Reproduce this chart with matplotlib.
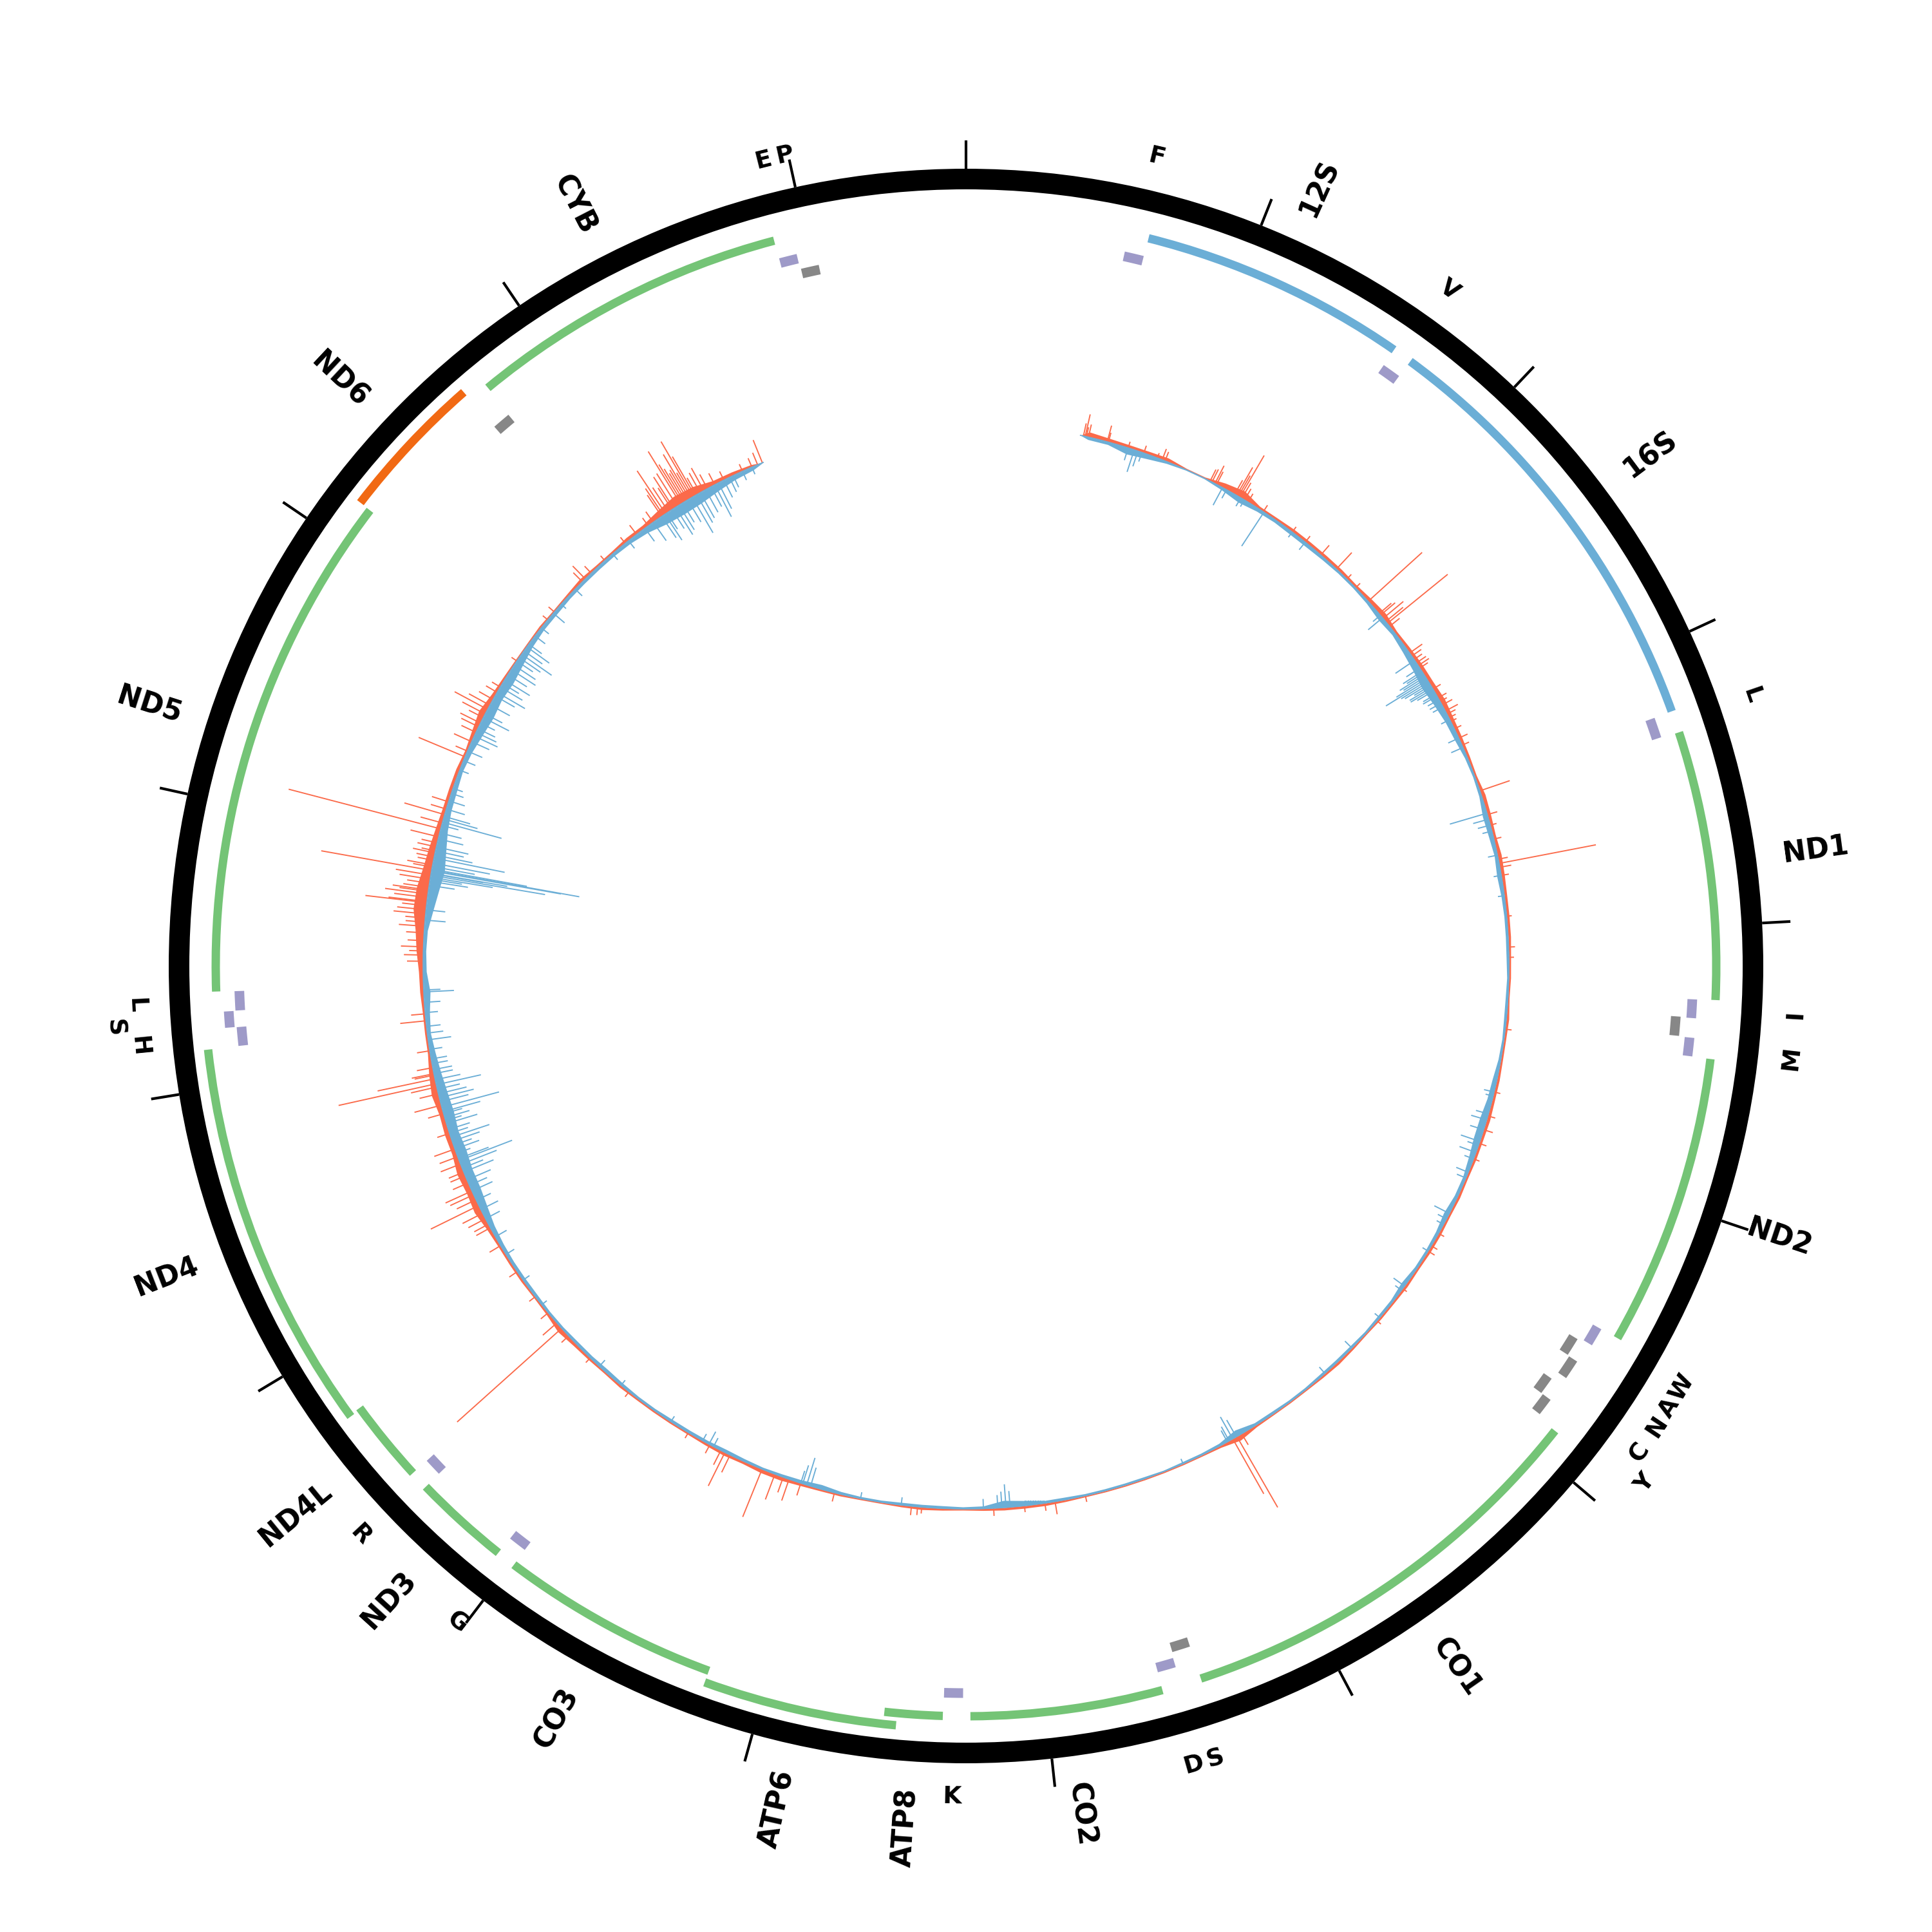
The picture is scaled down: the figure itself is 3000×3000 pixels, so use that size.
import numpy as np
import matplotlib
matplotlib.use("Agg")
import matplotlib.pyplot as plt

GENOME_LEN = 16569

# ---- genes (rRNA + protein coding) ----
gene_names = ["12S", "16S", "ND1", "ND2", "CO1", "CO2", "ATP8", "ATP6", "CO3",
              "ND3", "ND4L", "ND4", "ND5", "ND6", "CYB"]
gene_starts = [648, 1671, 3307, 4470, 5904, 7586, 8366, 8527, 9207,
               10059, 10470, 10760, 12337, 14149, 14747]
gene_ends = [1601, 3229, 4262, 5511, 7445, 8269, 8572, 9207, 9990,
             10404, 10766, 12137, 14148, 14673, 15887]
gene_kinds = ["rRNA", "rRNA", "H", "H", "H", "H", "H", "H", "H",
              "H", "H", "H", "H", "L", "H"]

# ---- tRNAs ----
trna_names = ["F", "V", "L", "I", "Q", "M", "W", "A", "N", "C", "Y", "S", "D",
              "K", "G", "R", "H", "S", "L", "E", "T", "P"]
trna_starts = [577, 1602, 3230, 4263, 4329, 4402, 5512, 5587, 5657, 5761, 5826,
               7446, 7518, 8295, 9991, 10405, 12138, 12207, 12266, 14674, 15888, 15956]
trna_ends = [647, 1670, 3304, 4331, 4400, 4469, 5579, 5655, 5729, 5826, 5891,
             7514, 7585, 8364, 10058, 10469, 12206, 12265, 12336, 14742, 15953, 16023]
trna_strand = ["H", "H", "H", "H", "L", "H", "H", "L", "L", "L", "L", "L", "H",
               "H", "H", "H", "H", "H", "H", "L", "H", "L"]
trna_labels = ["F", "V", "L", "I", "", "M", "W", "A", "N", "C", "Y", "S", "D",
               "K", "G", "R", "H", "S", "L", "", "E", "P"]

tick_positions = list(range(0, 16001, 1000))

# ---- inner signal track ----
signal_start, signal_end = 560, 15560
level_pos = list(range(600, 15600, 100))
red_level = [
    8, 6, 5, 5, 6, 2, 2, 8, 12, 4,
    4, 5, 5, 5, 5, 4, 6, 8, 4, 5,
    6, 6, 8, 6, 5, 4, 3, 6, 5, 4,
    6, 5, 4, 4, 4, 3, 3, 2, 4, 3,
    3, 4, 4, 5, 4, 4, 3, 4, 3, 4,
    4, 3, 4, 3, 3, 2, 3, 4, 3, 2,
    2, 2, 3, 8, 3, 2, 2, 2, 2, 2,
    2, 2, 3, 4, 4, 4, 3, 2, 3, 4,
    3, 2, 2, 3, 3, 4, 6, 6, 4, 5,
    4, 3, 3, 3, 3, 4, 3, 4, 5, 8,
    4, 3, 4, 4, 4, 6, 11, 9, 11, 7,
    8, 7, 11, 8, 4, 4, 4, 6, 7, 11,
    14, 20, 19, 14, 11, 8, 6, 6, 6, 4,
    7, 11, 6, 4, 3, 3, 4, 3, 4, 6,
    4, 4, 6, 6, 11, 16, 14, 7, 6, 4,
]
blue_level = [
    4, 4, 10, 7, 3, 1, 1, 4, 8, 5,
    4, 5, 5, 4, 3, 3, 4, 7, 5, 8,
    11, 14, 11, 8, 7, 4, 3, 4, 8, 7,
    5, 7, 5, 4, 4, 4, 3, 4, 4, 3,
    4, 7, 8, 11, 11, 8, 5, 5, 8, 5,
    4, 4, 7, 4, 4, 3, 4, 4, 4, 3,
    3, 4, 4, 10, 4, 3, 3, 2, 3, 3,
    3, 3, 4, 4, 8, 11, 4, 3, 4, 4,
    4, 3, 3, 4, 7, 5, 4, 3, 4, 5,
    4, 4, 4, 3, 3, 4, 5, 4, 4, 3,
    3, 4, 4, 4, 5, 7, 11, 14, 14, 16,
    14, 16, 14, 11, 8, 5, 7, 10, 5, 4,
    5, 11, 16, 20, 16, 11, 8, 7, 5, 7,
    11, 14, 12, 14, 11, 7, 5, 5, 4, 4,
    4, 4, 5, 8, 14, 16, 15, 11, 7, 5,
]
red_spike_pos = [
    575, 584, 590, 600, 694, 700, 800, 880, 950, 975, 990,
    1230, 1240, 1256, 1265, 1365, 1376, 1385, 1394, 1405, 1420, 1440, 1528,
    1700, 1780, 1878, 1980, 2050, 2110, 2200, 2280, 2290, 2310, 2330, 2342, 2360,
    2522, 2540, 2560, 2580, 2596, 2610, 2730, 2780, 2800, 2820, 2853, 2870, 2890,
    2910, 2950, 3000, 3038,
    3276, 3397, 3450, 3520, 3620, 3641, 3660, 3700, 3900, 4050, 4100, 4450,
    4760, 4880, 4950, 5020, 5100, 5500, 5570, 5600, 5820, 6020,
    6880, 6907, 6930, 7700, 7850, 7900, 8000, 8150, 8500, 8520, 8550,
    8930, 9100, 9160, 9190, 9233, 9300, 9470, 9498, 9520, 9580, 9700,
    10050, 10300, 10450, 10500, 10535, 10600, 10700, 10850, 11000, 11100, 11120,
    11150, 11180, 11222, 11253, 11280, 11300, 11343, 11380, 11400, 11442, 11480,
    11520, 11600, 11700, 11743, 11800, 11834, 11850, 11875, 11893, 11900, 11930,
    12013, 12160, 12194, 12450, 12480, 12500, 12520, 12550, 12588, 12620, 12640,
    12660, 12680, 12700, 12720, 12735, 12740, 12760, 12777, 12790, 12797, 12810,
    12830, 12850, 12870, 12893, 12910, 12920, 12943, 12960, 12980, 12990, 13010,
    13030, 13060, 13100, 13130, 13172, 13200, 13237, 13470, 13500, 13550, 13600,
    13630, 13650, 13680, 13700, 13725, 13748, 13780, 13820, 13850, 14000, 14250,
    14300, 14500, 14520, 14560, 14650, 14780, 14850, 14920, 14950, 15000, 15010,
    15023, 15040, 15060, 15070, 15090, 15110, 15120, 15130, 15140, 15150, 15160,
    15170, 15180, 15190, 15200, 15220, 15240, 15260, 15300, 15350, 15450, 15500,
    15530, 15555,
]
red_spike_h = [
    20, 35, 15, 20, 26, 15, 10, 12, 8, 18, 15,
    20, 22, 31, 22, 25, 50, 37, 75, 28, 20, 15, 12,
    10, 12, 20, 35, 10, 10, 113, 25, 30, 41, 35, 121, 20,
    24, 18, 15, 18, 20, 15, 14, 15, 12, 18, 22, 15, 12,
    10, 12, 15, 12,
    49, 16, 10, 12, 15, 153, 18, 12, 8, 10, 8, 10,
    10, 12, 15, 12, 10, 10, 11, 12, 8, 8,
    20, 127, 98, 10, 20, 12, 10, 12, 10, 13, 14,
    14, 20, 35, 25, 42, 80, 30, 58, 25, 15, 10,
    10, 10, 15, 218, 29, 15, 12, 15, 20, 25, 25,
    30, 35, 83, 33, 40, 45, 26, 25, 25, 33, 30,
    34, 20, 25, 43, 30, 41, 155, 91, 31, 35, 25,
    20, 40, 22, 25, 30, 22, 35, 25, 28, 40, 30,
    31, 50, 45, 38, 96, 60, 52, 67, 45, 56, 40,
    35, 48, 55, 174, 30, 40, 25, 28, 35, 22, 30,
    25, 45, 244, 35, 65, 25, 27, 78, 20, 30, 25,
    30, 35, 25, 40, 58, 37, 25, 20, 15, 10, 10,
    12, 20, 28, 15, 10, 12, 18, 15, 20, 40, 50,
    80, 45, 40, 58, 60, 96, 70, 60, 50, 54, 80,
    45, 99, 70, 30, 35, 40, 25, 20, 15, 12, 15,
    20, 38,
]
blue_spike_pos = [
    800, 831, 850, 870, 1298, 1320, 1400, 1420, 1532, 1700, 1780,
    2290, 2306, 2565, 2610, 2630, 2640, 2650, 2660, 2670, 2680, 2690, 2700, 2710,
    2720, 2730, 2740, 2760, 2770, 2790, 2810, 2830,
    2900, 3000, 3050, 3390, 3420, 3450, 3480, 3600, 3700, 3800,
    4760, 4780, 4870, 4900, 4950, 5010, 5030, 5067, 5100, 5170, 5200, 5390, 5420,
    5450, 5600, 5805, 5830, 6000, 6200, 6380,
    6910, 6930, 6950, 6960, 7200, 8070, 8090, 8110, 8130, 8200, 8600, 8800, 9050,
    9070, 9090, 9100, 9560, 9585, 9620, 9800, 10100, 10240,
    10650, 10800, 10950, 11050, 11150, 11200, 11250, 11300, 11330, 11359, 11400,
    11420, 11440, 11460, 11470, 11497, 11520, 11540, 11560, 11580, 11600, 11620,
    11650, 11666, 11680, 11700, 11710, 11732, 11760, 11780, 11800, 11823, 11845,
    11870, 11900, 11920, 11950, 11973,
    12020, 12067, 12100, 12133, 12200, 12250, 12301, 12310, 12650, 12700, 12820,
    12840, 12851, 12860, 12870, 12878, 12880, 12891, 12894, 12900, 12913, 12930,
    12955, 12970, 12990, 13010, 13050, 13080, 13118, 13134, 13150, 13163, 13200,
    13242, 13280, 13306,
    13400, 13450, 13500, 13550, 13580, 13600, 13620, 13650, 13680, 13700, 13750,
    13800, 13820, 13850, 13870, 13890, 13920, 13950, 13975, 14000, 14020, 14040,
    14060, 14084, 14100, 14150, 14200, 14292, 14350, 14450,
    14700, 14800, 14900, 14950, 15000, 15018, 15030, 15060, 15080, 15100, 15120,
    15150, 15175, 15200, 15220, 15250, 15280, 15300, 15320, 15350, 15380, 15400,
    15450, 15500,
]
blue_spike_h = [
    20, 36, 25, 15, 31, 15, 15, 12, 63, 10, 15,
    15, 29, 36, 25, 35, 30, 45, 40, 55, 76, 50, 45, 30,
    40, 40, 30, 23, 25, 20, 20, 18,
    15, 18, 20, 60, 25, 20, 15, 15, 12, 10,
    16, 12, 20, 25, 22, 31, 18, 27, 15, 20, 15, 26, 15,
    12, 10, 21, 12, 10, 15, 13,
    30, 39, 25, 20, 8, 25, 36, 25, 20, 15, 12, 10, 30,
    44, 30, 20, 15, 22, 12, 10, 10, 13,
    10, 12, 15, 20, 25, 30, 25, 35, 30, 40, 50,
    35, 60, 88, 50, 23, 40, 30, 45, 63, 30, 35,
    50, 26, 40, 30, 60, 92, 45, 55, 45, 36, 71,
    40, 30, 30, 25, 25,
    20, 36, 25, 22, 20, 25, 47, 26, 32, 30, 40,
    60, 50, 98, 180, 82, 120, 204, 233, 150, 67, 90,
    112, 60, 45, 51, 40, 35, 27, 95, 55, 42, 30,
    26, 20, 16,
    15, 20, 25, 30, 40, 35, 30, 25, 45, 30, 35,
    35, 50, 40, 30, 46, 35, 45, 40, 30, 40, 57,
    35, 43, 25, 20, 15, 23, 10, 15,
    12, 15, 25, 35, 40, 48, 30, 35, 50, 45, 35,
    40, 64, 50, 45, 40, 35, 56, 45, 30, 25, 20,
    15, 12,
]

# ---- style ----
RED = "#fb6a4a"
BLUE = "#6baed6"
GREEN = "#74c476"
ORANGE = "#f16913"
PURPLE = "#9e9ac8"
GREY = "#878787"
BASE_R = 843
FONT = "DejaVu Sans"


def th(bp):
    return 2 * np.pi * np.asarray(bp, dtype=float) / GENOME_LEN


def assign_rows(starts, ends, pad=10):
    rows, last = [], []
    for s, e in zip(starts, ends):
        for i, le in enumerate(last):
            if s > le + pad:
                last[i] = e
                rows.append(i)
                break
        else:
            last.append(e)
            rows.append(len(last) - 1)
    return rows


fig = plt.figure(figsize=(10, 10), dpi=300)
ax = fig.add_axes([0, 0, 1, 1], projection="polar")
ax.set_theta_zero_location("N")
ax.set_theta_direction(-1)
ax.set_ylim(0, 1500)
ax.set_axis_off()

# outer black ring + ticks
ax.bar(0, 32, width=2 * np.pi, bottom=1206, color="black", linewidth=0)
ax.vlines(th(tick_positions), 1238, 1282, color="black", linewidth=1.0)

# gene track
grows = assign_rows(gene_starts, gene_ends)
gene_colors = {"rRNA": BLUE, "H": GREEN, "L": ORANGE}
for s, e, k, row in zip(gene_starts, gene_ends, gene_kinds, grows):
    rc = 1165 + 19 * row
    ax.bar(th((s + e) / 2), 13, width=th(e - s), bottom=rc - 6.5,
           color=gene_colors[k], linewidth=0)

# tRNA track
for strand, base, col in (("H", 1129, PURPLE), ("L", 1105, GREY)):
    idx = [i for i, st in enumerate(trna_strand) if st == strand]
    rows = assign_rows([trna_starts[i] for i in idx], [trna_ends[i] for i in idx])
    for i, row in zip(idx, rows):
        rc = base + 18 * row
        ax.bar(th((trna_starts[i] + trna_ends[i]) / 2), 15,
               width=th(trna_ends[i] - trna_starts[i]), bottom=rc - 7.5,
               color=col, linewidth=0)

# gene labels (radial)
for name, s, e in zip(gene_names, gene_starts, gene_ends):
    mid = (s + e) / 2
    deg = mid / GENOME_LEN * 360
    if deg < 180:
        rot, ha = 90 - deg, "left"
    else:
        rot, ha = 270 - deg, "right"
    ax.text(th(mid), 1280, name, rotation=rot, rotation_mode="anchor",
            ha=ha, va="center", fontsize=10.5, fontweight="bold", family=FONT)

# tRNA labels (tangential), pushed outward when too close to the previous one
label_last = []
for lab, s, e in zip(trna_labels, trna_starts, trna_ends):
    if not lab:
        continue
    mid = (s + e) / 2
    row = 0
    while row < len(label_last) and mid - label_last[row] < 67:
        row += 1
    if row == len(label_last):
        label_last.append(mid)
    else:
        label_last[row] = mid
    deg = mid / GENOME_LEN * 360
    rot = 180 - deg if 90 < deg < 270 else -deg
    ax.text(th(mid), 1290 + 36 * row, lab, rotation=rot, rotation_mode="anchor",
            ha="center", va="center", fontsize=9, fontweight="bold", family=FONT)

# inner signal track
lp = [signal_start] + level_pos + [signal_end]
rl = np.array([0] + red_level + [0], dtype=float)
bl = np.array([0] + blue_level + [0], dtype=float)
ax.fill_between(th(lp), BASE_R, BASE_R + rl, color=RED, linewidth=0)
ax.fill_between(th(lp), BASE_R - bl, BASE_R, color=BLUE, linewidth=0)
ax.vlines(th(red_spike_pos), BASE_R, BASE_R + np.array(red_spike_h), color=RED, linewidth=0.45)
ax.vlines(th(blue_spike_pos), BASE_R - np.array(blue_spike_h), BASE_R, color=BLUE, linewidth=0.45)
bt = np.linspace(th(signal_start), th(signal_end), 2000)
ax.plot(bt, np.full_like(bt, BASE_R), color=BLUE, linewidth=0.4)

fig.savefig("out.png", dpi=300, facecolor="white")
